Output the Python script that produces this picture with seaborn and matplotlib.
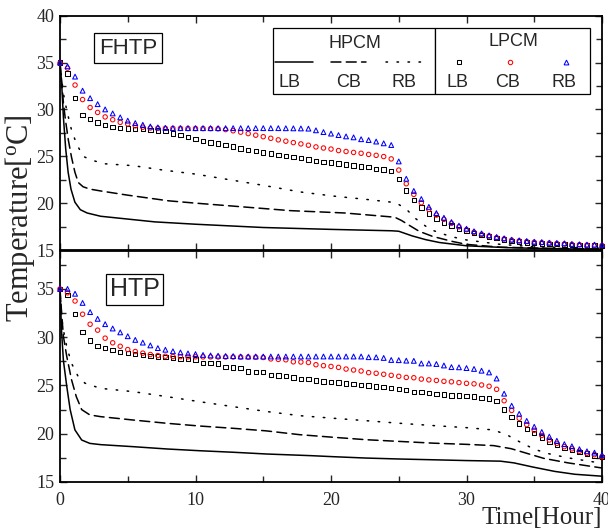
import numpy as np
import pandas as pd
import matplotlib
matplotlib.use("Agg")
import matplotlib.pyplot as plt
from matplotlib.lines import Line2D
from matplotlib.patches import Rectangle
from matplotlib.ticker import MultipleLocator
import seaborn as sns

sns.set_style("ticks")
plt.rcParams["font.family"] = ["Liberation Serif", "DejaVu Serif"]
plt.rcParams["mathtext.fontset"] = "custom"
plt.rcParams["mathtext.rm"] = "Liberation Serif"
SANS = ["Liberation Sans", "DejaVu Sans"]

# ---------------------------------------------------------------------------
# Sampling of the LPCM records: one reading every 2000 s, over 40 h
# ---------------------------------------------------------------------------
sample_hours = np.arange(73) * (2000.0 / 3600.0)

# ---------------- FHTP panel ----------------
fhtp_lpcm_lb = [35.0, 33.84, 31.2, 29.4, 29.0, 28.6, 28.35, 28.15, 28.02, 27.95,
                27.9, 27.88, 27.83, 27.77, 27.67, 27.42, 27.24, 27.06, 26.82, 26.65,
                26.48, 26.35, 26.2, 26.05, 25.85, 25.7, 25.55, 25.4, 25.3, 25.15,
                25.02, 24.92, 24.8, 24.67, 24.5, 24.41, 24.33, 24.22, 24.13, 24.03,
                23.9, 23.83, 23.66, 23.6, 23.42, 22.55, 21.36, 20.33, 19.55, 18.9,
                18.37, 17.95, 17.63, 17.27, 17.06, 16.81, 16.6, 16.42, 16.25, 16.1,
                15.98, 15.9, 15.82, 15.76, 15.7, 15.66, 15.62, 15.58, 15.54, 15.5,
                15.48, 15.46, 15.44]
fhtp_lpcm_cb = [34.95, 34.4, 32.6, 31.05, 30.2, 29.68, 29.2, 28.9, 28.62, 28.45,
                28.25, 28.1, 28.02, 28.0, 27.98, 27.98, 27.98, 27.97, 27.97, 27.96,
                27.95, 27.93, 27.85, 27.72, 27.57, 27.42, 27.25, 27.09, 26.92, 26.75,
                26.61, 26.46, 26.32, 26.18, 26.0, 25.88, 25.77, 25.61, 25.51, 25.41,
                25.32, 25.2, 25.1, 24.97, 24.72, 23.53, 22.07, 20.93, 20.04, 19.33,
                18.73, 18.27, 17.85, 17.48, 17.17, 16.9, 16.67, 16.5, 16.31, 16.18,
                16.05, 15.97, 15.9, 15.83, 15.78, 15.73, 15.7, 15.65, 15.6, 15.56,
                15.53, 15.5, 15.48]
fhtp_lpcm_rb = [35.0, 34.6, 33.5, 32.0, 31.2, 30.56, 30.0, 29.57, 29.15, 28.8,
                28.54, 28.36, 28.18, 28.08, 28.03, 28.0, 28.0, 28.0, 28.0, 28.0,
                28.0, 28.0, 28.0, 28.0, 28.0, 28.0, 28.0, 28.0, 28.0, 28.0,
                27.99, 27.98, 27.97, 27.95, 27.77, 27.58, 27.42, 27.26, 27.12, 27.02,
                26.82, 26.73, 26.57, 26.38, 26.2, 24.45, 22.6, 21.3, 20.44, 19.6,
                18.94, 18.44, 17.98, 17.6, 17.27, 17.0, 16.77, 16.56, 16.39, 16.25,
                16.1, 16.03, 15.96, 15.88, 15.85, 15.78, 15.75, 15.71, 15.64, 15.61,
                15.57, 15.57, 15.53]

fhtp_hpcm_lb_t = [0, 0.12, 0.25, 0.42, 0.6, 0.81, 1.1, 1.5, 2.0, 3, 5, 7, 10, 15,
                  20, 24.5, 25, 26, 27, 28, 30, 33, 36, 40]
fhtp_hpcm_lb = [35, 32.8, 29.2, 25.8, 23.3, 21.5, 20.1, 19.3, 18.95, 18.6, 18.3,
                18.0, 17.75, 17.4, 17.2, 17.05, 17.0, 16.5, 16.1, 15.8, 15.45,
                15.25, 15.15, 15.07]
fhtp_hpcm_cb_t = [0, 0.12, 0.25, 0.4, 0.62, 0.85, 1.1, 1.35, 1.7, 2.2, 3, 5, 8, 10,
                  13.5, 17, 21, 24.7, 25.2, 25.7, 26.5, 27.5, 29, 30, 32.5, 36, 40]
fhtp_hpcm_cb = [35, 33, 30.7, 28.9, 26.7, 24.9, 23.3, 22.2, 21.75, 21.5, 21.3,
                20.85, 20.25, 20.0, 19.6, 19.2, 18.95, 18.5, 18.15, 17.7, 17.0,
                16.45, 15.9, 15.6, 15.3, 15.18, 15.1]
fhtp_hpcm_rb_t = [0, 0.12, 0.25, 0.5, 0.85, 1.2, 1.7, 2.3, 3.3, 5.4, 7.5, 10, 12.5,
                  15, 17.7, 20.2, 22.6, 24.8, 25.6, 26.2, 27.3, 28.8, 30, 32.5, 35, 40]
fhtp_hpcm_rb = [35, 33.3, 31.7, 29.9, 27.8, 26.4, 25.0, 24.6, 24.2, 24.0, 23.55,
                23.1, 22.5, 21.9, 21.2, 20.75, 20.4, 20.05, 19.3, 18.4, 17.2,
                16.45, 16.07, 15.6, 15.35, 15.18]

# ---------------- HTP panel ----------------
htp_lpcm_lb = [35.0, 34.38, 32.4, 30.51, 29.65, 29.1, 28.85, 28.65, 28.48, 28.38,
               28.28, 28.18, 28.08, 28.0, 27.93, 27.85, 27.75, 27.72, 27.7, 27.3,
               27.3, 27.28, 26.9, 26.88, 26.84, 26.45, 26.42, 26.4, 26.08, 26.04,
               26.0, 25.84, 25.7, 25.64, 25.5, 25.4, 25.33, 25.3, 25.22, 25.15,
               25.05, 24.98, 24.88, 24.81, 24.71, 24.64, 24.53, 24.35, 24.3, 24.19,
               24.12, 24.05, 23.98, 23.95, 23.88, 23.84, 23.72, 23.65, 23.37, 22.53,
               21.75, 21.07, 20.52, 20.05, 19.61, 19.2, 18.85, 18.53, 18.3, 18.12,
               17.97, 17.75, 17.57]
htp_lpcm_cb = [35.0, 34.6, 33.75, 32.38, 31.34, 30.73, 29.9, 29.42, 29.06, 28.72,
               28.52, 28.35, 28.21, 28.1, 28.03, 28.0, 27.98, 27.97, 27.97, 27.96,
               27.96, 27.95, 27.95, 27.95, 27.95, 27.94, 27.93, 27.9, 27.75, 27.7,
               27.66, 27.45, 27.43, 27.38, 27.15, 27.05, 26.97, 26.87, 26.7, 26.6,
               26.5, 26.33, 26.26, 26.16, 26.05, 25.95, 25.83, 25.8, 25.66, 25.58,
               25.52, 25.43, 25.38, 25.3, 25.22, 25.17, 25.05, 24.92, 24.6, 23.42,
               22.41, 21.6, 20.94, 20.36, 19.82, 19.35, 19.0, 18.66, 18.44, 18.18,
               17.97, 17.83, 17.62]
htp_lpcm_rb = [35.0, 35.0, 34.5, 33.55, 32.6, 31.9, 31.35, 30.9, 30.5, 30.1,
               29.72, 29.44, 29.15, 28.87, 28.7, 28.54, 28.42, 28.32, 28.25, 28.16,
               28.11, 28.08, 28.05, 28.04, 28.0, 28.0, 28.0, 28.0, 28.0, 28.0,
               28.0, 28.0, 28.0, 28.0, 28.0, 28.0, 28.0, 28.0, 28.0, 28.0,
               28.0, 27.93, 27.92, 27.85, 27.64, 27.62, 27.57, 27.55, 27.28, 27.28,
               27.22, 27.07, 26.9, 26.88, 26.8, 26.71, 26.53, 26.35, 25.72, 24.15,
               22.9, 22.06, 21.33, 20.72, 20.18, 19.7, 19.27, 18.92, 18.7, 18.4,
               18.18, 18.04, 17.8]

htp_hpcm_lb_t = [0, 0.12, 0.25, 0.5, 0.75, 1.1, 1.6, 2.2, 3, 5.4, 7.9, 10.3, 12.8,
                 15.25, 18.5, 20.2, 22.6, 25.1, 27.6, 30, 32.5, 33.5, 34.9, 36.5, 38, 40]
htp_hpcm_lb = [35, 30.5, 27.6, 24.9, 22.5, 20.4, 19.35, 19.0, 18.87, 18.66, 18.42,
               18.24, 18.08, 17.9, 17.73, 17.62, 17.48, 17.38, 17.3, 17.22, 17.16,
               16.98, 16.55, 16.1, 15.8, 15.6]
htp_hpcm_cb_t = [0, 0.12, 0.25, 0.5, 0.85, 1.2, 1.6, 2.2, 3, 5.4, 7.9, 10.3, 12.8,
                 15.2, 17.7, 20.2, 22.6, 25.1, 27.6, 30, 32, 33.3, 34.5, 35.7, 37.5, 40]
htp_hpcm_cb = [35, 32.5, 30.1, 28.0, 25.6, 23.85, 22.5, 21.95, 21.77, 21.42, 21.08,
               20.8, 20.56, 20.3, 19.9, 19.63, 19.38, 19.2, 19.02, 18.9, 18.77,
               18.45, 17.95, 17.45, 16.98, 16.45]
htp_hpcm_rb_t = [0, 0.12, 0.25, 0.5, 0.85, 1.35, 1.85, 3, 5.4, 7.9, 10.3, 12.8,
                 15.25, 17.7, 20.2, 22.6, 25.1, 27.6, 30, 32, 33, 34, 35, 36, 37.5, 40]
htp_hpcm_rb = [35, 32.1, 30.75, 29.0, 27.3, 25.9, 25.23, 24.7, 24.36, 23.84, 23.32,
               22.8, 22.3, 21.87, 21.6, 21.35, 21.08, 20.84, 20.63, 20.39, 19.87,
               19.1, 18.4, 17.95, 17.5, 16.94]

panel_names = ["FHTP", "HTP"]
position_labels = ["LB", "CB", "RB"]

# line styles of the HPCM curves and marker styles of the LPCM samples
hpcm_styles = ["-", (0, (6.5, 3.5)), (0, (1, 6.2))]
lpcm_markers = [("s", "black", 10), ("o", "#ff0000", 10), ("^", "#0000ff", 12)]

W, H = 608, 529
fig = plt.figure(figsize=(W / 100, H / 100), dpi=100)


def fx(px):
    return px / W


def fy(py):
    return 1 - py / H


ax_top = fig.add_axes([fx(60), fy(250), fx(602) - fx(60), fy(15.7) - fy(250)])
ax_bot = fig.add_axes([fx(60), fy(482), fx(602) - fx(60), fy(251) - fy(482)])

panels = [
    (ax_top,
     [(fhtp_hpcm_lb_t, fhtp_hpcm_lb), (fhtp_hpcm_cb_t, fhtp_hpcm_cb), (fhtp_hpcm_rb_t, fhtp_hpcm_rb)],
     [fhtp_lpcm_lb, fhtp_lpcm_cb, fhtp_lpcm_rb], (15, 40)),
    (ax_bot,
     [(htp_hpcm_lb_t, htp_hpcm_lb), (htp_hpcm_cb_t, htp_hpcm_cb), (htp_hpcm_rb_t, htp_hpcm_rb)],
     [htp_lpcm_lb, htp_lpcm_cb, htp_lpcm_rb], (15, 38.93)),
]

for ax, hpcm, lpcm, ylim in panels:
    for (t, temp), ls in zip(hpcm, hpcm_styles):
        df = pd.DataFrame({"hour": t, "temp": temp})
        sns.lineplot(data=df, x="hour", y="temp", ax=ax, color="black", lw=1.1,
                     linestyle=ls, estimator=None, sort=False,
                     dash_capstyle="round", zorder=2)
    for temp, (mk, col, s) in zip(lpcm, lpcm_markers):
        df = pd.DataFrame({"hour": sample_hours, "temp": temp})
        sns.scatterplot(data=df, x="hour", y="temp", ax=ax, marker=mk, s=s,
                        facecolors="none", edgecolor=col, linewidth=0.75,
                        clip_on=False, zorder=3)
    ax.set_xlim(0, 40)
    ax.set_ylim(*ylim)
    ax.set_xlabel("")
    ax.set_ylabel("")
    ax.xaxis.set_major_locator(MultipleLocator(10))
    ax.xaxis.set_minor_locator(MultipleLocator(5))
    ax.yaxis.set_major_locator(MultipleLocator(5))
    ax.yaxis.set_minor_locator(MultipleLocator(2.5))
    ax.tick_params(which="both", direction="in", top=True, right=True,
                   width=1.0, labelsize=13, pad=4)
    ax.tick_params(which="major", length=5)
    ax.tick_params(which="minor", length=4)
    for sp in ax.spines.values():
        sp.set_linewidth(1.3)
        sp.set_color("black")

ax_top.tick_params(labelbottom=False)
ax_bot.tick_params(axis="x", pad=7)

# panel tags
ax_top.text(0.1255, 0.862, panel_names[0], transform=ax_top.transAxes,
            family=SANS, fontsize=16, ha="center", va="center",
            bbox=dict(boxstyle="square,pad=0.22", fc="white", ec="black", lw=0.9))
ax_bot.text(0.138, 0.835, panel_names[1], transform=ax_bot.transAxes,
            family=SANS, fontsize=18, ha="center", va="center",
            bbox=dict(boxstyle="square,pad=0.14", fc="white", ec="black", lw=0.9))

# axis titles
fig.text(fx(20), fy(218), "Temperature[$\\mathrm{^{o}}$C]", rotation=90,
         ha="center", va="center", fontsize=22)
fig.text(fx(602), fy(518), "Time[Hour]", ha="right", va="center", fontsize=18)

# two-part key: HPCM curves and LPCM samples
for x0, x1 in [(273, 435), (435, 590)]:
    fig.patches.append(Rectangle((fx(x0), fy(94)), fx(x1) - fx(x0), fy(28.5) - fy(94),
                                 transform=fig.transFigure, fc="white", ec="black",
                                 lw=0.9, zorder=5))
fig.text(fx(355), fy(43), "HPCM", family=SANS, fontsize=13, ha="center",
         va="center", zorder=6)
fig.text(fx(513), fy(41), "LPCM", family=SANS, fontsize=13, ha="center",
         va="center", zorder=6)
for (x0, x1), ls, lab, lx in zip([(275, 313), (331, 366), (386, 421)], hpcm_styles,
                                 position_labels, [290, 349, 404]):
    fig.lines.append(Line2D([fx(x0), fx(x1)], [fy(62), fy(62)], color="black",
                            lw=1.1, linestyle=ls, dash_capstyle="round",
                            transform=fig.transFigure, zorder=6))
    fig.text(fx(lx), fy(83), lab, family=SANS, fontsize=13, ha="center",
             va="center", zorder=6)
for (mk, col, s), lab, mx in zip(lpcm_markers, position_labels, [459, 510, 566]):
    fig.lines.append(Line2D([fx(mx)], [fy(62)], marker=mk, markersize=np.sqrt(s),
                            mfc="none", mec=col, mew=0.75, linestyle="",
                            transform=fig.transFigure, zorder=6))
    fig.text(fx(mx - 2), fy(83), lab, family=SANS, fontsize=13, ha="center",
             va="center", zorder=6)

fig.savefig("out.png", dpi=100)
